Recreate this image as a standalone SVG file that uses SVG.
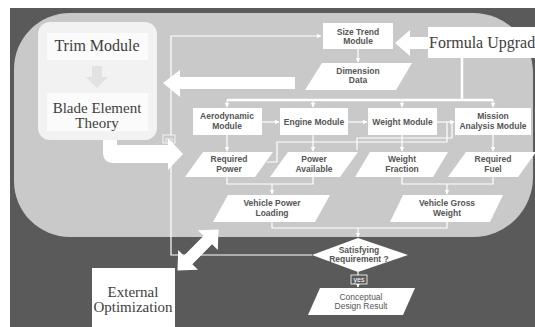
<svg xmlns="http://www.w3.org/2000/svg" width="535" height="327" viewBox="0 0 535 327">
<defs>
<marker id="ah" viewBox="0 0 10 10" refX="9" refY="5" markerWidth="5" markerHeight="5" markerUnits="userSpaceOnUse" orient="auto">
<path d="M0,0 L10,5 L0,10 Z" fill="#ffffff"/>
</marker>
<style>
.box{fill:#ffffff}
.t{font-family:"Liberation Sans",Arial,sans-serif;font-weight:bold;font-size:8.5px;fill:#555555;text-anchor:middle}
.s{font-family:"Liberation Serif","Times New Roman",serif;fill:#3e3e3e;text-anchor:middle}
.ln{fill:none;stroke:#ffffff;stroke-width:1.2}
.bus{fill:none;stroke:#ffffff;stroke-width:2.5}
.big{fill:#ffffff}
.lab{font-family:"Liberation Sans",Arial,sans-serif;font-size:7px;fill:#ffffff;text-anchor:middle}
</style>
</defs>
<rect x="0" y="0" width="535" height="327" fill="#ffffff"/>
<rect x="10" y="8" width="525" height="319" fill="#5a5a5a"/>
<path d="M70,13 H473 A60,60 0 0 1 533,73 V177 A60,60 0 0 1 473,237 H70 A56,56 0 0 1 14,181 V69 A56,56 0 0 1 70,13 Z" fill="#c9c9c9"/>

<g id="connectors">
<polyline class="ln" points="312,255 171,255 171,36 321,36" marker-end="url(#ah)"/>
<line class="ln" x1="358" y1="49" x2="358" y2="62" marker-end="url(#ah)"/>
<line class="bus" x1="462" y1="58" x2="462" y2="100"/>
<line class="bus" x1="227" y1="100" x2="493" y2="100"/>
<line class="ln" x1="227" y1="100" x2="227" y2="107" marker-end="url(#ah)"/>
<line class="ln" x1="313" y1="100" x2="313" y2="107" marker-end="url(#ah)"/>
<line class="ln" x1="402" y1="100" x2="402" y2="107" marker-end="url(#ah)"/>
<line class="ln" x1="493" y1="100" x2="493" y2="107" marker-end="url(#ah)"/>
<line class="ln" x1="262" y1="122" x2="279" y2="122" marker-end="url(#ah)"/>
<line class="ln" x1="348" y1="122" x2="367" y2="122" marker-end="url(#ah)"/>
<line class="ln" x1="437" y1="122" x2="454" y2="122" marker-end="url(#ah)"/>
<line class="ln" x1="227" y1="135" x2="227" y2="151" marker-end="url(#ah)"/>
<line class="ln" x1="313" y1="135" x2="313" y2="151" marker-end="url(#ah)"/>
<line class="ln" x1="402" y1="135" x2="402" y2="151" marker-end="url(#ah)"/>
<line class="ln" x1="493" y1="135" x2="493" y2="151" marker-end="url(#ah)"/>
<polyline class="ln" points="447,122 447,142 277,142 277,162 267,162"/>
<polyline class="ln" points="452,122 452,138 357,138 357,150"/>
<polyline class="ln" points="227,177 227,184 313,184 313,177"/>
<line class="ln" x1="272" y1="184" x2="272" y2="194" marker-end="url(#ah)"/>
<polyline class="ln" points="402,177 402,184 493,184 493,177"/>
<line class="ln" x1="447" y1="184" x2="447" y2="194" marker-end="url(#ah)"/>
<polyline class="ln" points="272,222 272,228 447,228 447,222"/>
<line class="ln" x1="358" y1="228" x2="358" y2="237" marker-end="url(#ah)"/>
<line class="ln" x1="358" y1="272" x2="358" y2="287" marker-end="url(#ah)"/>
<rect x="163" y="135" width="12" height="8" fill="#c9c9c9" stroke="#ffffff" stroke-width="0.8"/>
<text class="lab" x="169" y="141.5">no</text>
<rect x="351" y="275" width="16" height="9" fill="#5a5a5a" stroke="#ffffff" stroke-width="0.8"/>
<text class="lab" x="359" y="282">yes</text>
<path class="big" d="M163,83 L180,70 V77 H295 V89 H180 V97 Z"/>
<path class="big" d="M395,43 L410,30 V37 H429 V49 H410 V56 Z"/>
<path class="big" d="M103,138 H117 V145 H168 V138 L183,154 L168,170 V163 H114 Q103,163 103,152 Z"/>
<g transform="translate(198,250) rotate(-45)">
<polygon class="big" points="-29,0 -14,-14 -14,-6 14,-6 14,-14 29,0 14,14 14,6 -14,6 -14,14"/>
</g>
</g>

<g id="trim-panel">
<rect x="38" y="22" width="119" height="118" rx="12" fill="#f2f2f2"/>
</g>
<g id="trim-module">
<rect x="47" y="33" width="101" height="27" fill="#fbfbfb"/>
<text class="s" x="97" y="51" font-size="16">Trim Module</text>
</g>
<g id="trim-arrow">
<path d="M92,66 H102 V77 H108 L97,88 L86,77 H92 Z" fill="#e2e2e2"/>
</g>
<g id="blade-element">
<rect x="47" y="93" width="101" height="38" fill="#fbfbfb"/>
<text class="s" x="97" y="113" font-size="15">Blade Element</text>
<text class="s" x="97" y="128" font-size="15">Theory</text>
</g>
<g id="formula-upgrade">
<rect x="428" y="27" width="110" height="31" class="box"/>
<text class="s" x="429" y="48" font-size="16" style="text-anchor:start">Formula Upgrad</text>
</g>
<g id="external-optimization">
<rect x="92" y="268" width="83" height="62" class="box"/>
<text class="s" x="133" y="297" font-size="15">External</text>
<text class="s" x="133" y="312" font-size="15">Optimization</text>
</g>
<g id="size-trend">
<rect x="323" y="23" width="70" height="26" class="box"/>
<text class="t" x="358" y="35">Size Trend</text>
<text class="t" x="358" y="44">Module</text>
</g>
<g id="dimension-data">
<polygon class="box" points="322,63 412,63 396,90 305,90"/>
<text class="t" x="358" y="74">Dimension</text>
<text class="t" x="358" y="83">Data</text>
</g>
<g id="aerodynamic-module">
<rect x="193" y="108" width="69" height="27" class="box"/>
<text class="t" x="227" y="119">Aerodynamic</text>
<text class="t" x="227" y="129">Module</text>
</g>
<g id="engine-module">
<rect x="280" y="108" width="68" height="27" class="box"/>
<text class="t" x="314" y="125">Engine Module</text>
</g>
<g id="weight-module">
<rect x="368" y="108" width="69" height="27" class="box"/>
<text class="t" x="402.5" y="125">Weight Module</text>
</g>
<g id="mission-analysis">
<rect x="455" y="108" width="76" height="27" class="box"/>
<text class="t" x="493" y="119">Mission</text>
<text class="t" x="493" y="129">Analysis Module</text>
</g>
<g id="required-power">
<polygon class="box" points="203,152 273,152 255,177 185,177"/>
<text class="t" x="229" y="162">Required</text>
<text class="t" x="229" y="172">Power</text>
</g>
<g id="power-available">
<polygon class="box" points="288,152 358,152 340,177 270,177"/>
<text class="t" x="314" y="162">Power</text>
<text class="t" x="314" y="172">Available</text>
</g>
<g id="weight-fraction">
<polygon class="box" points="370,152 448,152 433,177 355,177"/>
<text class="t" x="402" y="162">Weight</text>
<text class="t" x="402" y="172">Fraction</text>
</g>
<g id="required-fuel">
<polygon class="box" points="466,152 536,152 518,177 448,177"/>
<text class="t" x="493" y="162">Required</text>
<text class="t" x="493" y="172">Fuel</text>
</g>
<g id="vehicle-power-loading">
<polygon class="box" points="228,195 330,195 315,222 213,222"/>
<text class="t" x="272" y="206">Vehicle Power</text>
<text class="t" x="272" y="216">Loading</text>
</g>
<g id="vehicle-gross-weight">
<polygon class="box" points="403,195 503,195 490,222 390,222"/>
<text class="t" x="447" y="206">Vehicle Gross</text>
<text class="t" x="447" y="216">Weight</text>
</g>
<g id="satisfying-requirement">
<polygon class="box" points="358,238 408,255 358,272 312,255"/>
<text class="t" x="359" y="253">Satisfying</text>
<text class="t" x="359" y="262">Requirement ?</text>
</g>
<g id="conceptual-design-result">
<polygon class="box" points="320,288 415,288 403,315 308,315"/>
<text class="t" x="361" y="300" style="font-weight:normal">Conceptual</text>
<text class="t" x="361" y="309" style="font-weight:normal">Design Result</text>
</g>
</svg>
